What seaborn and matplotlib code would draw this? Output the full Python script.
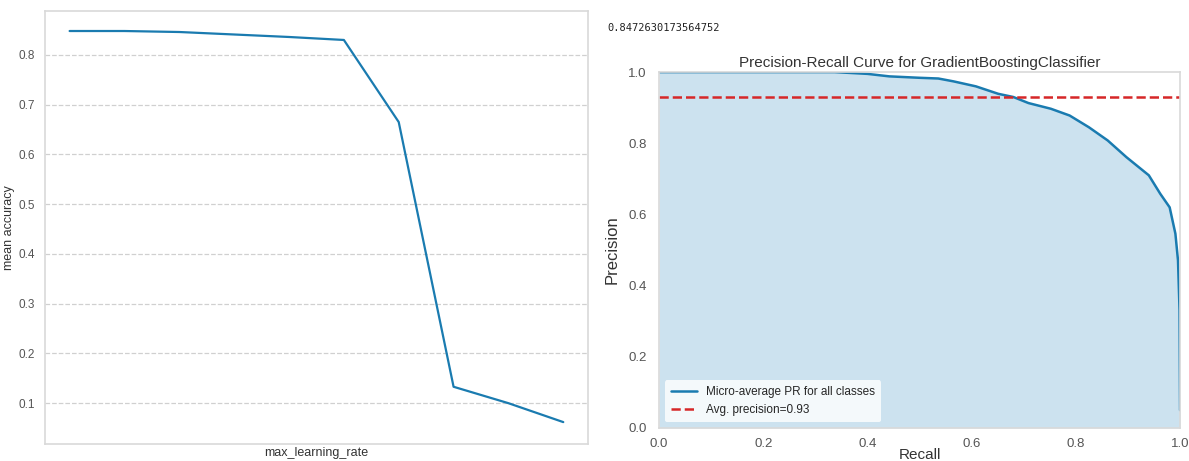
import matplotlib
matplotlib.use("Agg")
import matplotlib.pyplot as plt
import seaborn as sns
import numpy as np
import pandas as pd

# ---- data ----
lr_steps = list(range(10))
mean_accuracy = [0.848, 0.848, 0.846, 0.841, 0.836, 0.830, 0.665, 0.133, 0.100, 0.062]

recall = [0.0, 0.337, 0.40, 0.442, 0.50, 0.536, 0.565, 0.608, 0.651, 0.68, 0.709, 0.752,
          0.788, 0.825, 0.861, 0.897, 0.940, 0.962, 0.980, 0.991, 0.996, 0.999, 1.0]
precision = [1.0, 1.0, 0.995, 0.988, 0.984, 0.982, 0.974, 0.960, 0.939, 0.930, 0.913, 0.897,
             0.878, 0.845, 0.808, 0.761, 0.710, 0.658, 0.620, 0.546, 0.471, 0.330, 0.050]
avg_precision = 0.93
score_text = "0.8472630173564752"

# ---- style ----
sns.set_theme(style="whitegrid")
plt.rcParams['font.family'] = ['Liberation Sans', 'DejaVu Sans']
plt.rcParams['axes.edgecolor'] = '#d9d9d9'
plt.rcParams['xtick.color'] = '#555555'
plt.rcParams['ytick.color'] = '#555555'

fig = plt.figure(figsize=(11.89, 4.61), dpi=100)

# ---- left panel ----
ax1 = fig.add_axes([0.0378, 0.0369, 0.4567, 0.939])
df1 = pd.DataFrame({"max_learning_rate": lr_steps, "mean accuracy": mean_accuracy})
sns.lineplot(data=df1, x="max_learning_rate", y="mean accuracy", ax=ax1,
             color="#1a7bb0", linewidth=1.6)
ax1.set_ylim(0.018, 0.888)
ax1.set_yticks([0.1, 0.2, 0.3, 0.4, 0.5, 0.6, 0.7, 0.8])
ax1.set_yticklabels(["0.1", "0.2", "0.3", "0.4", "0.5", "0.6", "0.7", "0.8"])
ax1.set_xticks([])
ax1.grid(axis='x', visible=False)
ax1.grid(axis='y', linestyle='--', color='#d0d0d0', linewidth=0.9)
ax1.tick_params(axis='y', labelsize=8.5, pad=1)
ax1.set_xlabel("max_learning_rate", fontsize=9, color='#333333', labelpad=2)
ax1.set_ylabel("mean accuracy", fontsize=9, color='#333333', labelpad=3)
for s in ax1.spines.values():
    s.set_color('#d9d9d9')
    s.set_linewidth(1.2)

# ---- right panel ----
fig.text(0.511, 0.939, score_text, family='DejaVu Sans Mono', fontsize=7.5,
         color='#222222', va='center', ha='left')

ax2 = fig.add_axes([0.5543, 0.0716, 0.4382, 0.772])
df2 = pd.DataFrame({"Recall": recall, "Precision": precision})
ax2.fill_between(df2["Recall"], df2["Precision"], color="#0072B2",
                 alpha=0.2, linewidth=0)
sns.lineplot(data=df2, x="Recall", y="Precision", ax=ax2, color="#1a7bb0",
             linewidth=1.8, estimator=None, sort=False,
             label="Micro-average PR for all classes")
ax2.axhline(avg_precision, color='#d62728', linestyle='--', linewidth=1.8,
            label="Avg. precision={:0.2f}".format(avg_precision))
ax2.set_xlim(0, 1)
ax2.set_ylim(0, 1)
ax2.grid(False)
ax2.set_xticks([0.0, 0.2, 0.4, 0.6, 0.8, 1.0])
ax2.set_yticks([0.0, 0.2, 0.4, 0.6, 0.8, 1.0])
ax2.tick_params(labelsize=9.5, pad=3)
ax2.tick_params(axis='x', pad=1)
ax2.set_xlabel("Recall", fontsize=11, color='#333333', labelpad=-1)
ax2.set_ylabel("Precision", fontsize=12, color='#333333', labelpad=6)
ax2.set_title("Precision-Recall Curve for GradientBoostingClassifier",
              fontsize=11, color='#333333', pad=4)
for s in ax2.spines.values():
    s.set_color('#d9d9d9')
    s.set_linewidth(1.2)
leg = ax2.legend(loc='lower left', fontsize=8.5, frameon=True, framealpha=0.8,
                 facecolor='white', edgecolor='none', borderpad=0.5,
                 handlelength=2.2)

fig.savefig("out.png", dpi=100)
